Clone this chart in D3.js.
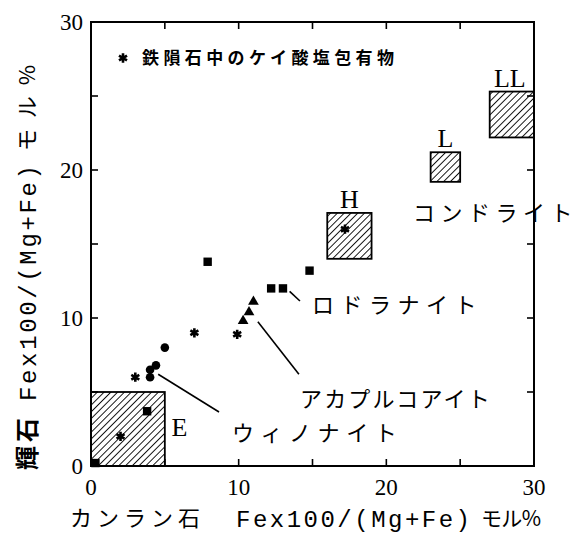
<!DOCTYPE html>
<html>
<head>
<meta charset="utf-8">
<script src="https://cdn.jsdelivr.net/npm/d3@7"></script>
<style>
  body { margin: 0; background: #fff; }
</style>
</head>
<body>
<div id="chart"></div>
<script>
// values (olivine Fa vs pyroxene Fs, mol%)
var asterisks = [[2.0, 2.0], [3.0, 6.0], [7.0, 9.0], [9.9, 8.9], [17.2, 16.0]];
var squares = [[0.3, 0.2], [3.8, 3.7], [7.9, 13.8], [12.2, 12.0], [13.0, 12.0], [14.8, 13.2]];
var dots = [[4.0, 6.0], [4.0, 6.5], [4.4, 6.8], [5.0, 8.0]];
var triangles = [[10.3, 9.8], [10.7, 10.4], [11.0, 11.1]];

var boxes = [
  { name: "E",  x0: 0,  x1: 5,  y0: 0,    y1: 5 },
  { name: "H",  x0: 16, x1: 19, y0: 14,   y1: 17.1 },
  { name: "L",  x0: 23, x1: 25, y0: 19.2, y1: 21.2 },
  { name: "LL", x0: 27, x1: 30, y0: 22.2, y1: 25.3 }
];

var tickValues = [0, 10, 20, 30];
var minorTicks = [0, 5, 10, 15, 20, 25, 30];

// group names with their leader lines
var groupLabels = [
  { text: "ロドラナイト",     x: 14.96, x2: 26.1, y: 10.9 },
  { text: "アカプルコアイト", x: 14.15, x2: 27.0, y: 4.5 },
  { text: "ウィノナイト",     x: 9.55,  x2: 20.7, y: 2.2 },
  { text: "コンドライト",     x: 21.8,  x2: 32.6, y: 17.1 }
];
var leaders = [
  [[13.45, 11.8], [14.15, 11.15]],
  [[11.3, 9.75], [14.08, 6.2]],
  [[4.55, 6.2], [8.67, 3.65]]
];

var width = 576, height = 536;
var cjk = "'Noto Sans CJK JP', sans-serif";
var serif = "'Liberation Serif', 'DejaVu Serif', serif";
var mono = "'Liberation Mono', 'DejaVu Sans Mono', monospace";

var svg = d3.select("#chart").append("svg")
  .attr("width", width)
  .attr("height", height);

var x = d3.scaleLinear().domain([0, 30]).range([91, 534]);
var y = d3.scaleLinear().domain([0, 30]).range([466, 22]);

// hatch pattern
var defs = svg.append("defs");
var pat = defs.append("pattern")
  .attr("id", "hatch")
  .attr("patternUnits", "userSpaceOnUse")
  .attr("width", 4.8)
  .attr("height", 4.8)
  .attr("patternTransform", "rotate(45)");
pat.append("line")
  .attr("x1", 0).attr("y1", 0)
  .attr("x2", 0).attr("y2", 4.8)
  .attr("stroke", "#000")
  .attr("stroke-width", 1.8);

// chondrite / enstatite boxes
svg.selectAll(".box")
  .data(boxes)
  .enter().append("rect")
  .attr("class", "box")
  .attr("x", d => x(d.x0))
  .attr("y", d => y(d.y1))
  .attr("width", d => x(d.x1) - x(d.x0))
  .attr("height", d => y(d.y0) - y(d.y1))
  .attr("fill", "url(#hatch)")
  .attr("stroke", "#000")
  .attr("stroke-width", 1.8);

svg.selectAll(".boxlabel")
  .data(boxes.filter(d => d.name != "E"))
  .enter().append("text")
  .attr("class", "boxlabel")
  .attr("x", d => (x(d.x0) + x(d.x1)) / 2 - (d.name == "LL" ? 2 : 0))
  .attr("y", d => y(d.y1) - 5)
  .attr("text-anchor", "middle")
  .attr("font-family", serif)
  .attr("font-size", 26)
  .text(d => d.name);

svg.append("text")
  .attr("x", x(5.45))
  .attr("y", y(2.05))
  .attr("font-family", serif)
  .attr("font-size", 26)
  .text("E");

// frame
svg.append("rect")
  .attr("x", x(0)).attr("y", y(30))
  .attr("width", x(30) - x(0))
  .attr("height", y(0) - y(30))
  .attr("fill", "none")
  .attr("stroke", "#000")
  .attr("stroke-width", 2);

// inward ticks on all four sides
var tl = 7;
var tk = svg.append("g").attr("stroke", "#000").attr("stroke-width", 1.6);
minorTicks.slice(1, -1).forEach(function(v) {
  tk.append("line").attr("x1", x(v)).attr("x2", x(v)).attr("y1", y(0)).attr("y2", y(0) - tl);
  tk.append("line").attr("x1", x(v)).attr("x2", x(v)).attr("y1", y(30)).attr("y2", y(30) + tl);
  tk.append("line").attr("y1", y(v)).attr("y2", y(v)).attr("x1", x(0)).attr("x2", x(0) + tl);
  tk.append("line").attr("y1", y(v)).attr("y2", y(v)).attr("x1", x(30)).attr("x2", x(30) - tl);
});

// tick labels
svg.selectAll(".xt")
  .data(tickValues)
  .enter().append("text")
  .attr("x", d => x(d))
  .attr("y", y(0) + 21)
  .attr("dy", "0.35em")
  .attr("text-anchor", "middle")
  .attr("font-family", serif)
  .attr("font-size", 23)
  .text(d => d);

svg.selectAll(".yt")
  .data(tickValues)
  .enter().append("text")
  .attr("x", x(0) - 8)
  .attr("y", d => y(d))
  .attr("dy", "0.35em")
  .attr("text-anchor", "end")
  .attr("font-family", serif)
  .attr("font-size", 23)
  .text(d => d);

// markers
var star = d3.symbol().type(d3.symbolAsterisk).size(60);
svg.selectAll(".ast")
  .data(asterisks)
  .enter().append("path")
  .attr("d", star)
  .attr("transform", d => "translate(" + x(d[0]) + "," + y(d[1]) + ")")
  .attr("fill", "none")
  .attr("stroke", "#000")
  .attr("stroke-width", 2.6);

svg.selectAll(".sq")
  .data(squares)
  .enter().append("rect")
  .attr("x", d => x(d[0]) - 4.2)
  .attr("y", d => y(d[1]) - 4.2)
  .attr("width", 8.4)
  .attr("height", 8.4)
  .attr("fill", "#000");

svg.selectAll(".dot")
  .data(dots)
  .enter().append("circle")
  .attr("cx", d => x(d[0]))
  .attr("cy", d => y(d[1]))
  .attr("r", 4.3)
  .attr("fill", "#000");

var tri = d3.symbol().type(d3.symbolTriangle).size(50);
svg.selectAll(".tri")
  .data(triangles)
  .enter().append("path")
  .attr("d", tri)
  .attr("transform", d => "translate(" + x(d[0]) + "," + y(d[1]) + ")")
  .attr("fill", "#000");

// leader lines and group names
svg.selectAll(".leader")
  .data(leaders)
  .enter().append("line")
  .attr("x1", d => x(d[0][0])).attr("y1", d => y(d[0][1]))
  .attr("x2", d => x(d[1][0])).attr("y2", d => y(d[1][1]))
  .attr("stroke", "#000")
  .attr("stroke-width", 1.6);

svg.selectAll(".glabel")
  .data(groupLabels)
  .enter().append("text")
  .attr("x", d => x(d.x))
  .attr("y", d => y(d.y))
  .attr("dy", "0.36em")
  .attr("font-family", cjk)
  .attr("font-size", 22)
  .attr("textLength", d => x(d.x2) - x(d.x))
  .attr("lengthAdjust", "spacing")
  .text(d => d.text);

// legend
svg.append("path")
  .attr("d", star)
  .attr("transform", "translate(123,58)")
  .attr("fill", "none")
  .attr("stroke", "#000")
  .attr("stroke-width", 2.6);
svg.append("text")
  .attr("x", 142)
  .attr("y", 58)
  .attr("dy", "0.36em")
  .attr("font-family", cjk)
  .attr("font-weight", "bold")
  .attr("font-size", 17)
  .attr("textLength", 252)
  .attr("lengthAdjust", "spacing")
  .text("鉄隕石中のケイ酸塩包有物");

// x axis title
var xt = svg.append("g");
xt.append("text").attr("x", 70).attr("y", 518).attr("dy", "0.36em")
  .attr("font-family", cjk).attr("font-size", 22)
  .attr("textLength", 130).attr("lengthAdjust", "spacing")
  .text("カンラン石");
xt.append("text").attr("x", 236).attr("y", 518).attr("dy", "0.36em")
  .attr("font-family", mono).attr("font-size", 24)
  .attr("textLength", 234).attr("lengthAdjust", "spacing")
  .text("Fex100/(Mg+Fe)");
xt.append("text").attr("x", 481).attr("y", 518).attr("dy", "0.36em")
  .attr("font-family", cjk).attr("font-size", 21)
  .attr("textLength", 60).attr("lengthAdjust", "spacing")
  .text("モル%");

// y axis title (rotated)
var yt = svg.append("g").attr("transform", "translate(27,0) rotate(-90)");
yt.append("text").attr("x", -470).attr("y", 0).attr("dy", "0.36em")
  .attr("font-family", cjk).attr("font-size", 24).attr("font-weight", "bold")
  .attr("textLength", 52).attr("lengthAdjust", "spacing")
  .text("輝石");
yt.append("text").attr("x", -401).attr("y", 0).attr("dy", "0.36em")
  .attr("font-family", mono).attr("font-size", 24)
  .attr("textLength", 236).attr("lengthAdjust", "spacing")
  .text("Fex100/(Mg+Fe)");
yt.append("text").attr("x", -151).attr("y", 0).attr("dy", "0.36em")
  .attr("font-family", cjk).attr("font-size", 22)
  .attr("textLength", 86).attr("lengthAdjust", "spacing")
  .text("モル%");
</script>
</body>
</html>
